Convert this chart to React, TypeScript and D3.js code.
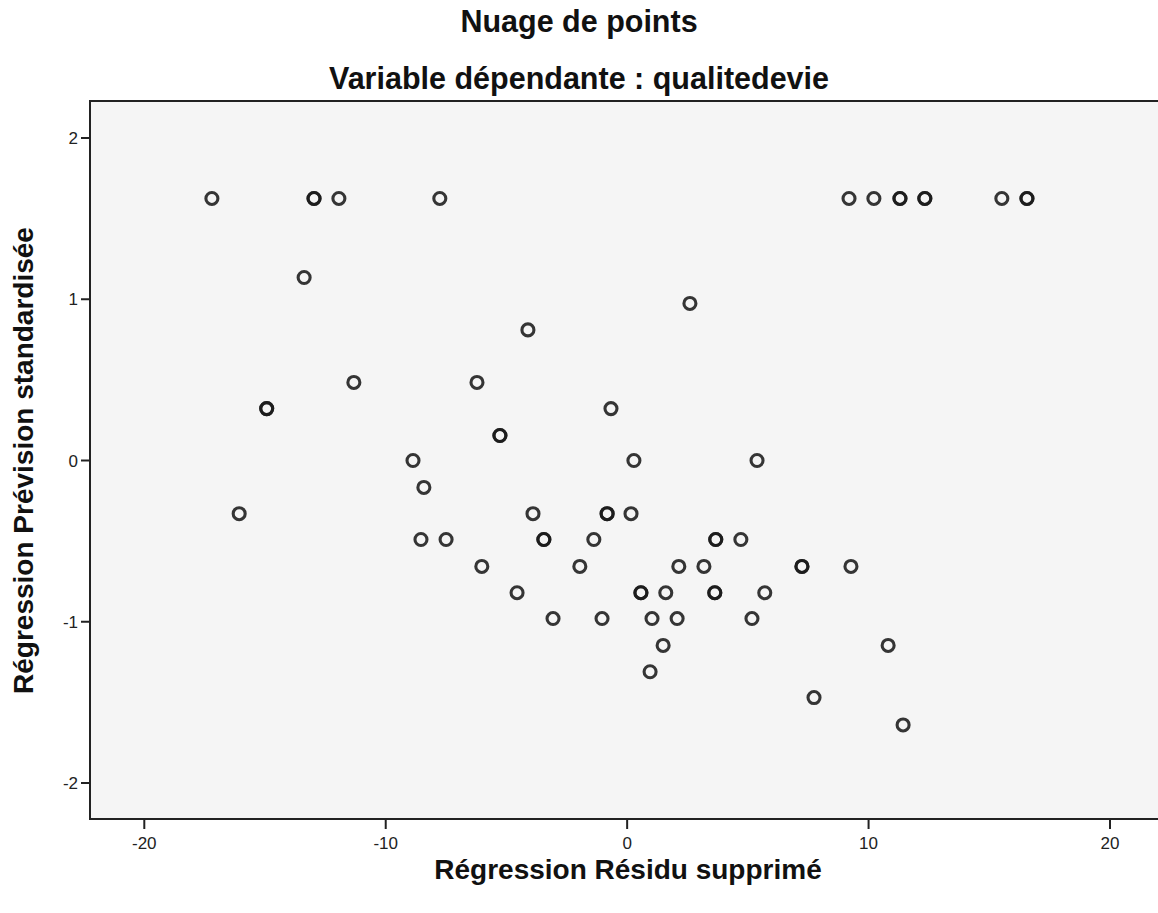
import React from "react";
import * as d3 from "d3";

// Régression Résidu supprimé (x) and Régression Prévision standardisée (y)
const residus: number[] = [
  -17.2, -12.97, -12.97, -11.94, -7.76, 9.19, 10.22, 11.3, 11.3, 12.33, 12.33, 15.52, 16.56, 16.56,
  -13.38, 2.6, -4.11, -11.32, -6.22, -14.93, -14.93, -0.67, -5.27, -5.27,
  -8.87, 0.28, 5.38, -8.42,
  -16.07, -3.9, -0.83, -0.83, 0.16,
  -8.54, -7.5, -3.45, -3.45, -1.38, 3.67, 3.67, 4.71,
  -6.02, -1.96, 2.14, 3.18, 7.24, 7.24, 9.27,
  -4.56, 0.57, 0.57, 1.6, 3.63, 3.63, 5.7,
  -3.07, -1.04, 1.03, 2.07, 5.17,
  1.49, 10.81, 0.95, 7.74, 11.43,
];
const previsions: number[] = [
  1.625, 1.625, 1.625, 1.625, 1.625, 1.625, 1.625, 1.625, 1.625, 1.625, 1.625, 1.625, 1.625, 1.625,
  1.135, 0.974, 0.81, 0.484, 0.484, 0.322, 0.322, 0.322, 0.155, 0.155,
  0, 0, 0, -0.167,
  -0.33, -0.33, -0.33, -0.33, -0.33,
  -0.49, -0.49, -0.49, -0.49, -0.49, -0.49, -0.49, -0.49,
  -0.657, -0.657, -0.657, -0.657, -0.657, -0.657, -0.657,
  -0.82, -0.82, -0.82, -0.82, -0.82, -0.82, -0.82,
  -0.98, -0.98, -0.98, -0.98, -0.98,
  -1.147, -1.147, -1.31, -1.47, -1.64,
];
const xTicks: number[] = [-20, -10, 0, 10, 20];
const yTicks: number[] = [-2, -1, 0, 1, 2];

const W = 1158;
const H = 913;
const plot = { left: 90, top: 101, right: 1162, bottom: 819 };
const FONT = "'Liberation Sans', Arial, sans-serif";

export default function App() {
  const x = d3.scaleLinear().domain([-20, 20]).range([144.3, 1110]);
  const y = d3.scaleLinear().domain([-2, 2]).range([783, 138]);
  const points = residus.map((r, i) => ({ r, p: previsions[i] }));

  return (
    <svg
      width={W}
      height={H}
      style={{ position: "absolute", left: 0, top: 0, background: "#fff" }}
      fontFamily={FONT}
    >
      <text x={579} y={32} textAnchor="middle" fontSize={30.5} fontWeight="bold" fill="#111">
        Nuage de points
      </text>
      <text x={579} y={89} textAnchor="middle" fontSize={30.5} fontWeight="bold" fill="#111">
        Variable dépendante : qualitedevie
      </text>

      <rect
        x={plot.left}
        y={plot.top}
        width={plot.right - plot.left}
        height={plot.bottom - plot.top}
        fill="#f5f5f5"
        stroke="#222"
        strokeWidth={2}
      />

      {yTicks.map((t) => (
        <g key={`y${t}`}>
          <line x1={plot.left - 9} x2={plot.left} y1={y(t)} y2={y(t)} stroke="#222" strokeWidth={2} />
          <text x={plot.left - 12} y={y(t)} dy="0.36em" textAnchor="end" fontSize={17} fill="#222">
            {t}
          </text>
        </g>
      ))}
      {xTicks.map((t) => (
        <g key={`x${t}`}>
          <line x1={x(t)} x2={x(t)} y1={plot.bottom} y2={plot.bottom + 10} stroke="#222" strokeWidth={2} />
          <text x={x(t)} y={plot.bottom + 30} textAnchor="middle" fontSize={17} fill="#222">
            {t}
          </text>
        </g>
      ))}

      {points.map((d, i) => (
        <circle
          key={i}
          cx={x(d.r)}
          cy={y(d.p)}
          r={6}
          fill="none"
          stroke="#1a1a1a"
          strokeOpacity={0.88}
          strokeWidth={3.1}
        />
      ))}

      <text x={628} y={879} textAnchor="middle" fontSize={28} fontWeight="bold" fill="#111">
        Régression Résidu supprimé
      </text>
      <text
        transform={`translate(33,${y(0)}) rotate(-90)`}
        textAnchor="middle"
        fontSize={28}
        fontWeight="bold"
        fill="#111"
      >
        Régression Prévision standardisée
      </text>
    </svg>
  );
}
